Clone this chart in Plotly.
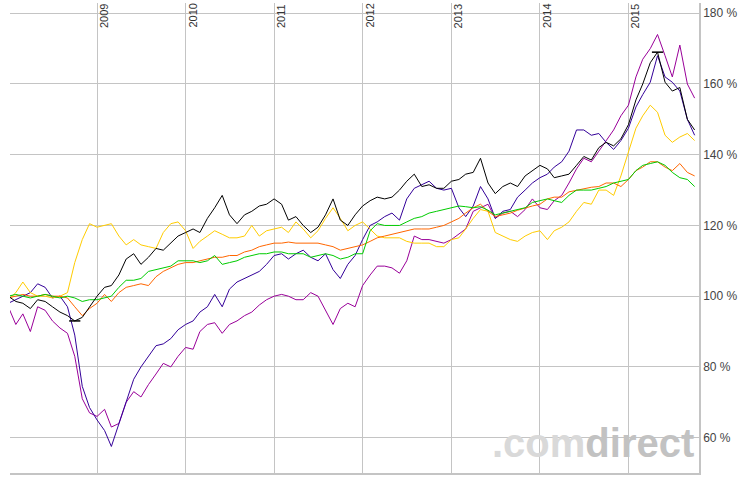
import pandas as pd
import plotly.graph_objects as go

# monthly readings, Jan 2008 .. Oct 2015, performance indexed to 100 %
dates = pd.date_range("2008-01-01", periods=94, freq="MS")
years = [2009, 2010, 2011, 2012, 2013, 2014, 2015]
y_ticks = [60, 80, 100, 120, 140, 160, 180]

black = [
    100, 98.5, 98, 96.5, 99, 98.5, 97, 95.5, 94.5, 93, 94, 97,
    100, 102.5, 103, 106, 110.5, 112, 109, 111, 113.5, 113, 115, 117,
    118, 119, 118, 122, 125, 128.5, 123, 120.5, 123, 124, 125.5, 126,
    127.5, 126, 121.5, 122.5, 120, 118, 119.5, 123, 127.5, 121.5, 120, 123,
    125.5, 127, 128, 127.5, 128, 130, 132.5, 134.5, 131, 131.5, 130.5, 130.5,
    132.5, 133, 134.5, 135, 139, 132, 129, 131, 132, 131, 134, 135.5,
    137, 136, 133.5, 134, 134.5, 137, 139.5, 138.5, 142, 143.5, 142.5, 144.5,
    148.5, 155.5, 160, 166, 169, 160.5, 158, 159, 150, 147,
]
indigo = [
    98, 99, 100, 101, 103.5, 102.5, 99.5, 100, 97, 89, 74.5, 68.5,
    65, 62, 57.5, 64, 70, 76.5, 80, 83, 86, 86.5, 88, 90.5,
    92, 93, 95.5, 97, 100.5, 97, 102, 104, 105, 106, 107, 109,
    111.5, 112, 110.5, 112, 113, 111, 110, 112, 107.5, 105, 109, 111.5,
    116, 120, 121, 122.5, 123.5, 121.5, 127.5, 130.5, 131.5, 132.5, 130.5, 130,
    130.5, 125, 122.5, 125.5, 131, 127.5, 122, 124, 124.5, 128, 130, 132,
    133.5, 134.5, 136.5, 138, 141, 147, 147, 145.5, 146, 143.5, 141.5, 144,
    147.5, 153.5, 157, 160.5, 168, 162, 160.5, 158, 150, 145.5,
]
purple = [
    97, 92, 95, 90, 97, 96, 93, 91, 89.5, 83, 71, 67,
    66, 68, 63, 64, 70, 73, 71.5, 75, 78, 81, 80, 83,
    85.5, 85, 90, 92, 92.5, 89.5, 92, 93, 94.5, 95.5, 97.5, 99,
    100, 100.5, 100, 99, 99, 101, 100, 96, 92, 96.5, 98, 97,
    103, 106, 108.5, 108.5, 108, 106.5, 110, 117, 116, 116, 115.5, 115,
    116, 117.5, 119, 124, 125, 126, 122, 123.5, 124, 122.5, 124.5, 127.5,
    125, 124.5, 127, 128.5, 132, 136, 139, 138, 141, 144, 147, 151,
    154, 162, 167, 170, 174, 168, 162, 171, 160, 156,
]
gold = [
    99, 101, 104, 101, 100, 100, 99.5, 100, 101, 109.5, 116, 120.5,
    119.5, 120, 120.5, 117, 114.5, 116, 114.5, 114, 113.5, 118, 120.5, 121,
    118.5, 113.5, 115.5, 117, 118.5, 117.5, 116.5, 116.5, 117, 120, 117, 118.5,
    119, 119.5, 118, 121, 119, 116.5, 118.5, 122, 125, 122, 118.5, 120,
    121, 119, 117, 116.5, 116.5, 116.5, 115.5, 115, 115, 115, 114, 114,
    116, 116.5, 119, 122, 124.5, 124, 118, 117, 116, 115.5, 117, 118,
    118.5, 116, 118.5, 119.5, 121, 124, 126.5, 126, 130, 130, 128.5, 134,
    141, 147.5, 151, 154, 152, 145.5, 143.5, 145, 146, 144,
]
green = [
    100, 100.5, 100, 99.5, 100, 100.5, 100, 99.5, 100, 99.5, 98.5, 99,
    99, 99.5, 100, 102.5, 104.5, 104.5, 105, 107, 107.5, 108, 108.5, 110,
    110, 110, 109.5, 110, 111.5, 109, 109.5, 110, 111, 111.5, 112, 112,
    112.5, 112.5, 112, 112, 112, 111, 111.5, 112, 111.5, 110.5, 111, 112,
    112, 118.5, 120.5, 120, 120, 120, 121, 122, 122.5, 123.5, 124, 124.5,
    125, 125.5, 125.3, 125, 125.3, 124.3, 123, 123.5, 124, 124.5, 125, 126.5,
    127, 127.5, 127, 126.5, 128.5, 130, 130, 130, 130.5, 131, 132, 132.5,
    133, 135.5, 137, 137.5, 138, 137, 135, 133.5, 133, 131,
]
orange = [
    99.5, 100, 100.5, 100, 100, 100.5, 100, 100, 99.5, 97, 94.5, 96.5,
    98, 100.5, 98.5, 101, 102.5, 103, 103.5, 103, 105.5, 107, 108, 109,
    109.5, 109.5, 110, 110.5, 111, 111, 111.5, 111.5, 112.5, 113, 114, 114.5,
    115, 115, 115.3, 115, 115, 115, 115, 114.5, 114, 113, 113.5, 114,
    114.5, 115.5, 116.5, 117, 117.5, 118, 118.7, 119, 119, 119, 119.5, 120,
    121, 122, 123.5, 125, 126, 124, 122.5, 123, 123.5, 124.3, 125, 125.5,
    126, 127.5, 128, 128, 129.5, 130, 130.3, 130.8, 131, 132, 132, 131,
    133, 135.5, 136.5, 138, 138, 136.5, 135.5, 137.5, 135, 134,
]

series = [
    (purple, "#990099"),
    (indigo, "#330099"),
    (gold, "#ffcc00"),
    (orange, "#ff6600"),
    (green, "#00cc00"),
    (black, "#000000"),
]

GRID = "#c4c4c4"

fig = go.Figure()
for values, color in series:
    fig.add_trace(go.Scatter(x=dates, y=values, mode="lines",
                             line=dict(color=color, width=1)))

# high / low marks on the black line
lo = black.index(min(black))
hi = black.index(max(black))
fig.add_trace(go.Scatter(
    x=[dates[lo], dates[hi]], y=[black[lo], black[hi]], mode="markers",
    marker=dict(symbol="line-ew", size=8, line=dict(color="#000000", width=1.5)),
))

# year labels, rotated, next to each grid line
for yr in years:
    fig.add_annotation(
        x=f"{yr}-01-01", y=1, xref="x", yref="paper",
        text=str(yr), textangle=-90, showarrow=False,
        xanchor="left", yanchor="top", xshift=-1, yshift=1,
        font=dict(family="Liberation Sans, Arial, sans-serif", size=11, color="#333333"),
    )

# watermark
fig.add_annotation(
    x=1, y=0, xref="paper", yref="paper", xanchor="right", yanchor="bottom",
    xshift=-3, yshift=6, showarrow=False,
    text="<b><span style='color:#d9d9d9'>.com</span><span style='color:#c2c2c2'>direct</span></b>",
    font=dict(family="Liberation Sans Narrow, Arial Narrow, Liberation Sans, sans-serif", size=40),
)

fig.update_layout(
    width=741, height=477,
    margin=dict(l=10, r=42, t=3, b=4, autoexpand=False),
    paper_bgcolor="white", plot_bgcolor="white",
    showlegend=False, hovermode=False,
)
fig.update_xaxes(
    range=["2008-01-08", "2015-10-19"], automargin=False,
    tickvals=[f"{yr}-01-01" for yr in years], showticklabels=False, ticks="",
    showgrid=True, gridcolor=GRID, gridwidth=1,
    showline=True, linecolor=GRID, linewidth=1.5, zeroline=False,
)
fig.update_yaxes(
    range=[50, 182.9], side="right", automargin=False,
    tickvals=y_ticks, ticktext=[f"{v} %" for v in y_ticks], ticks="", ticklen=0,
    showgrid=True, gridcolor=GRID, gridwidth=1,
    showline=True, linecolor=GRID, linewidth=1.5, zeroline=False,
    tickfont=dict(family="Liberation Sans, Arial, sans-serif", size=12, color="#444444"),
)

# drop the default page margin so the figure sits flush in the window
fig.write_html(
    "out.html",
    config={"displayModeBar": False},
    post_script="document.body.style.margin = '0';",
)
